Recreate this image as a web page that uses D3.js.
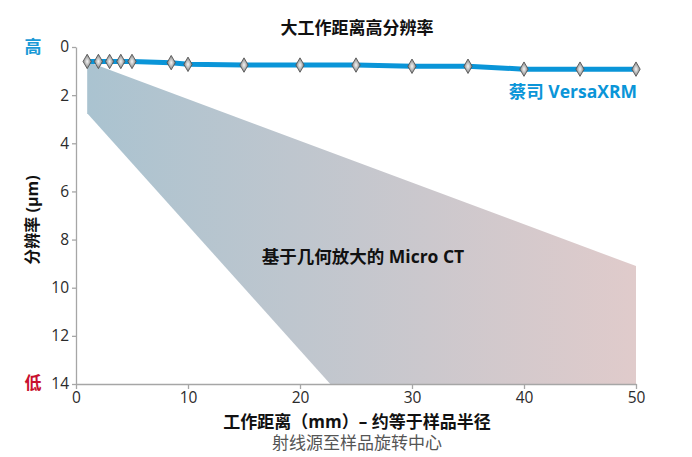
<!DOCTYPE html>
<html lang="zh">
<head>
	<meta charset="UTF-8">
	<title>大工作距离高分辨率</title>
	<script src="https://cdn.jsdelivr.net/npm/d3@7"></script>
	<style>
		body { margin: 0; background: #fff; }
		text { font-family: "Open Sans", "Noto Sans CJK SC", sans-serif; }
	</style>
</head>
<body>
	<div id="container"></div>
	<script>
		var width = 692, height = 457;

		// VersaXRM series
		var xrmX = [1, 2, 3, 4, 5, 8.5, 10, 15, 20, 25, 30, 35, 40, 45, 50];
		var xrmY = [0.6, 0.6, 0.6, 0.6, 0.6, 0.65, 0.72, 0.75, 0.75, 0.75, 0.8, 0.8, 0.92, 0.92, 0.92];

		// micro CT wedge outline (x, resolution)
		var wedgeX = [1, 50, 50, 22.7, 1];
		var wedgeY = [0.6, 9.1, 14, 14, 2.75];

		var xTicks = [0, 10, 20, 30, 40, 50];
		var yTicks = [0, 2, 4, 6, 8, 10, 12, 14];

		var svg = d3.select("#container").append("svg")
				.attr("width", width)
				.attr("height", height);

		var x = d3.scaleLinear().domain([0, 50]).range([76, 636]);
		var y = d3.scaleLinear().domain([0, 14]).range([47, 384]);

		var grad = svg.append("defs").append("linearGradient")
				.attr("id", "wedgeGrad")
				.attr("x1", "0%").attr("x2", "100%")
				.attr("y1", "0%").attr("y2", "0%");
		grad.append("stop").attr("offset", "0%").attr("stop-color", "#aac3d0");
		grad.append("stop").attr("offset", "100%").attr("stop-color", "#e0cbcb");

		var mg = svg.append("defs").append("radialGradient").attr("id", "markGrad");
		mg.append("stop").attr("offset", "0%").attr("stop-color", "#f6f6f6");
		mg.append("stop").attr("offset", "100%").attr("stop-color", "#7d7d7d");

		var wedge = wedgeX.map((d, i) => [x(d), y(wedgeY[i])]);
		svg.append("polygon")
				.attr("points", wedge.map(p => p.join(",")).join(" "))
				.attr("fill", "url(#wedgeGrad)");

		// axes
		var yAxis = svg.append("g")
				.attr("transform", "translate(" + x(0) + ",0)")
				.call(d3.axisLeft(y).tickValues(yTicks).tickSize(4).tickSizeOuter(0));
		var xAxis = svg.append("g")
				.attr("transform", "translate(0," + y(14) + ")")
				.call(d3.axisBottom(x).tickValues(xTicks).tickSize(5).tickSizeOuter(0));

		[xAxis, yAxis].forEach(g => {
			g.selectAll("path, line").attr("stroke", "#a6a6a6").attr("stroke-width", 1.3);
			g.selectAll("text")
				.attr("fill", "#2b2b2b")
				.style("font-size", "15.5px")
				.style("font-family", "'Open Sans', sans-serif");
		});
		yAxis.selectAll("text").attr("x", -7);
		xAxis.selectAll("text").attr("y", 8);

		// VersaXRM line
		var pts = xrmX.map((d, i) => [d, xrmY[i]]);
		var line = d3.line().x(d => x(d[0])).y(d => y(d[1]));
		svg.append("path")
				.datum(pts)
				.attr("d", line)
				.attr("fill", "none")
				.attr("stroke", "#0a95d8")
				.attr("stroke-width", 5);

		svg.selectAll(".marker").data(pts)
			.enter().append("path")
				.attr("class", "marker")
				.attr("d", d3.symbol().type(d3.symbolDiamond).size(60))
				.attr("transform", d => "translate(" + x(d[0]) + "," + y(d[1]) + ")")
				.attr("fill", "url(#markGrad)")
				.attr("stroke", "#555")
				.attr("stroke-width", 0.9);

		// texts
		svg.append("text")
				.attr("x", 357).attr("y", 34)
				.attr("text-anchor", "middle")
				.style("font-size", "17px").style("font-weight", "bold")
				.attr("fill", "#111")
				.text("大工作距离高分辨率");

		svg.append("text")
				.attr("x", 33).attr("y", 53)
				.attr("text-anchor", "middle")
				.style("font-size", "17px").style("font-weight", "bold")
				.attr("fill", "#1a9ad6")
				.text("高");

		svg.append("text")
				.attr("x", 33).attr("y", 389)
				.attr("text-anchor", "middle")
				.style("font-size", "17px").style("font-weight", "bold")
				.attr("fill", "#c8102e")
				.text("低");

		svg.append("text")
				.attr("transform", "translate(38,220) rotate(-90)")
				.attr("text-anchor", "middle")
				.style("font-size", "16px").style("font-weight", "bold")
				.attr("fill", "#111")
				.text("分辨率 (μm)");

		svg.append("text")
				.attr("x", 637).attr("y", 98)
				.attr("text-anchor", "end")
				.style("font-size", "17.5px").style("font-weight", "bold")
				.attr("fill", "#0a95d8")
				.text("蔡司 VersaXRM");

		svg.append("text")
				.attr("x", 363).attr("y", 263)
				.attr("text-anchor", "middle")
				.style("font-size", "17.5px").style("font-weight", "bold")
				.attr("fill", "#111")
				.text("基于几何放大的 Micro CT");

		svg.append("text")
				.attr("x", 357).attr("y", 428)
				.attr("text-anchor", "middle")
				.style("font-size", "17px").style("font-weight", "bold")
				.attr("fill", "#111")
				.text("工作距离（mm）– 约等于样品半径");

		svg.append("text")
				.attr("x", 357).attr("y", 449)
				.attr("text-anchor", "middle")
				.style("font-size", "17px")
				.attr("fill", "#555")
				.text("射线源至样品旋转中心");
	</script>
</body>
</html>
